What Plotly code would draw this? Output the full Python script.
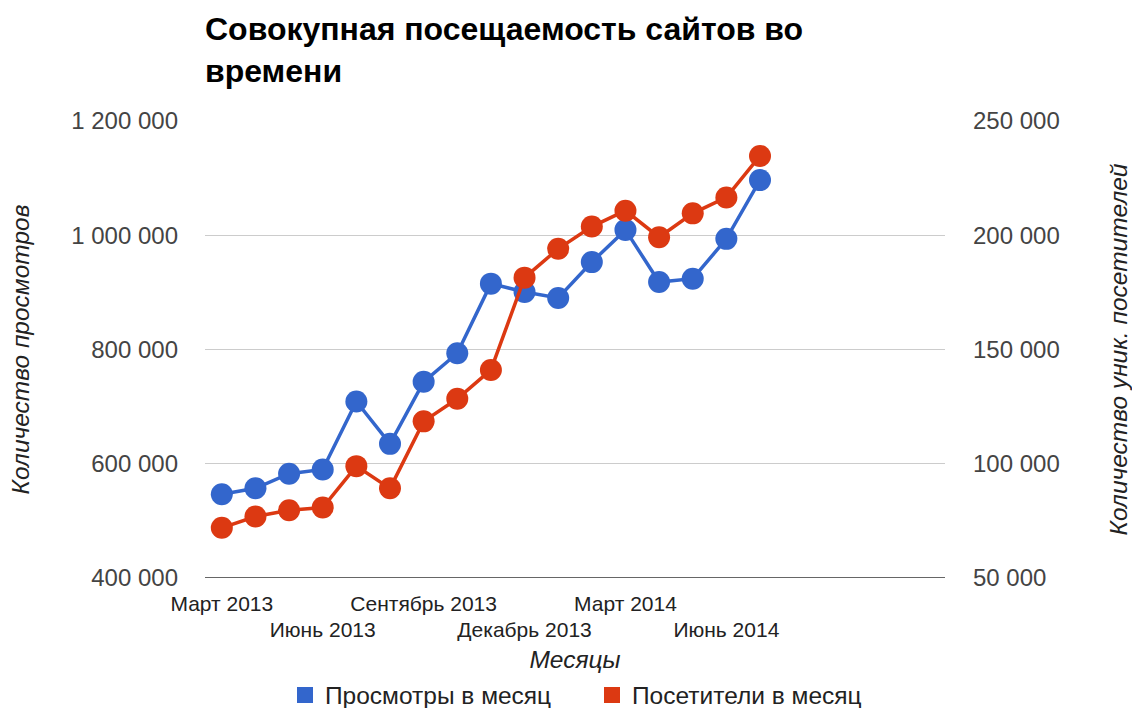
import plotly.graph_objects as go

months = ["Март 2013", "Апрель 2013", "Май 2013", "Июнь 2013", "Июль 2013", "Август 2013",
          "Сентябрь 2013", "Октябрь 2013", "Ноябрь 2013", "Декабрь 2013", "Январь 2014",
          "Февраль 2014", "Март 2014", "Апрель 2014", "Май 2014", "Июнь 2014", "Июль 2014"]
views = [546500, 557000, 582600, 590000, 709100, 634800, 743400, 793400, 915300,
         900700, 890200, 953000, 1009400, 918100, 924000, 993700, 1096500]
visitors = [71950, 76920, 79660, 80840, 98950, 89240, 118550, 128440, 141070,
            181450, 194080, 203790, 210760, 199130, 209580, 216550, 234710]
row1_labels = ["Март 2013", "Сентябрь 2013", "Март 2014"]
row2_labels = ["Июнь 2013", "Декабрь 2013", "Июнь 2014"]
left_ticks = [400000, 600000, 800000, 1000000, 1200000]
right_ticks = [50000, 100000, 150000, 200000, 250000]

BLUE = "#3366CC"
RED = "#DC3912"
FONT = "Liberation Sans, Arial, sans-serif"

x = list(range(len(months)))

fig = go.Figure()
fig.add_trace(go.Scatter(x=x, y=views, mode="lines+markers", name="Просмотры в месяц",
                         line=dict(color=BLUE, width=3.5), marker=dict(color=BLUE, size=22),
                         showlegend=False, yaxis="y"))
fig.add_trace(go.Scatter(x=x, y=visitors, mode="lines+markers", name="Посетители в месяц",
                         line=dict(color=RED, width=3.5), marker=dict(color=RED, size=22),
                         showlegend=False, yaxis="y2"))
# legend swatches
fig.add_trace(go.Scatter(x=[None], y=[None], mode="markers", name="Просмотры в месяц",
                         marker=dict(color=BLUE, size=23, symbol="square")))
fig.add_trace(go.Scatter(x=[None], y=[None], mode="markers", name="Посетители в месяц",
                         marker=dict(color=RED, size=23, symbol="square")))
# dummy trace on xaxis2 so it renders
fig.add_trace(go.Scatter(x=[0], y=[None], xaxis="x2", showlegend=False, hoverinfo="skip"))

fig.update_layout(
    width=1132, height=708,
    margin=dict(l=205, r=187, t=121, b=130, autoexpand=False),
    paper_bgcolor="white", plot_bgcolor="white",
    separators=", ",
    font=dict(family=FONT, color="#222"),
    title=dict(text="<b>Совокупная посещаемость сайтов во<br>времени</b>", x=205 / 1132,
               xanchor="left", y=1 - 40 / 708, yanchor="middle", yref="container",
               font=dict(size=32, color="#000", family=FONT)),
    xaxis=dict(range=[-0.5, 21.5], tickmode="array",
               tickvals=[months.index(m) for m in row1_labels], ticktext=row1_labels,
               showgrid=False, zeroline=False, showline=False, ticks="",
               tickfont=dict(size=21, color="#222"), ticklabelstandoff=11),
    xaxis2=dict(overlaying="x", matches="x", anchor="y", side="bottom", tickmode="array",
                tickvals=[months.index(m) for m in row2_labels], ticktext=row2_labels,
                showgrid=False, zeroline=False, showline=False, ticks="",
                tickfont=dict(size=21, color="#222"), ticklabelstandoff=37,
                title=dict(text="<i>Месяцы</i>", font=dict(size=24.5, color="#222"), standoff=10)),
    yaxis=dict(range=[400000, 1200000], tickvals=left_ticks, tickformat=",d",
               showgrid=True, gridcolor="#cccccc", gridwidth=1, zeroline=False,
               showline=False, ticks="", tickfont=dict(size=24, color="#444"),
               ticklabelstandoff=26,
               title=dict(text="<i>Количество просмотров</i>", font=dict(size=24.5, color="#222"),
                          standoff=34)),
    yaxis2=dict(range=[50000, 250000], tickvals=right_ticks, tickformat=",d", overlaying="y",
                side="right", showgrid=False, zeroline=False, showline=False, ticks="",
                tickfont=dict(size=24, color="#444"), ticklabelstandoff=27,
                title=dict(text="<i>Количество уник. посетителей</i>",
                           font=dict(size=24.5, color="#222"), standoff=51)),
    legend=dict(orientation="h", x=0.5 + 17 / 740, xanchor="center", y=(578 - 695) / 457,
                yanchor="middle", font=dict(size=24.5, color="#222"), itemsizing="trace",
                entrywidth=262),
)
# dark baseline at bottom
fig.add_shape(type="line", xref="paper", yref="y", x0=0, x1=1, y0=400000, y1=400000,
              line=dict(color="#333", width=1.5))

fig.write_html("out.html", post_script="document.body.style.margin='0';",
               config={"displayModeBar": False})
